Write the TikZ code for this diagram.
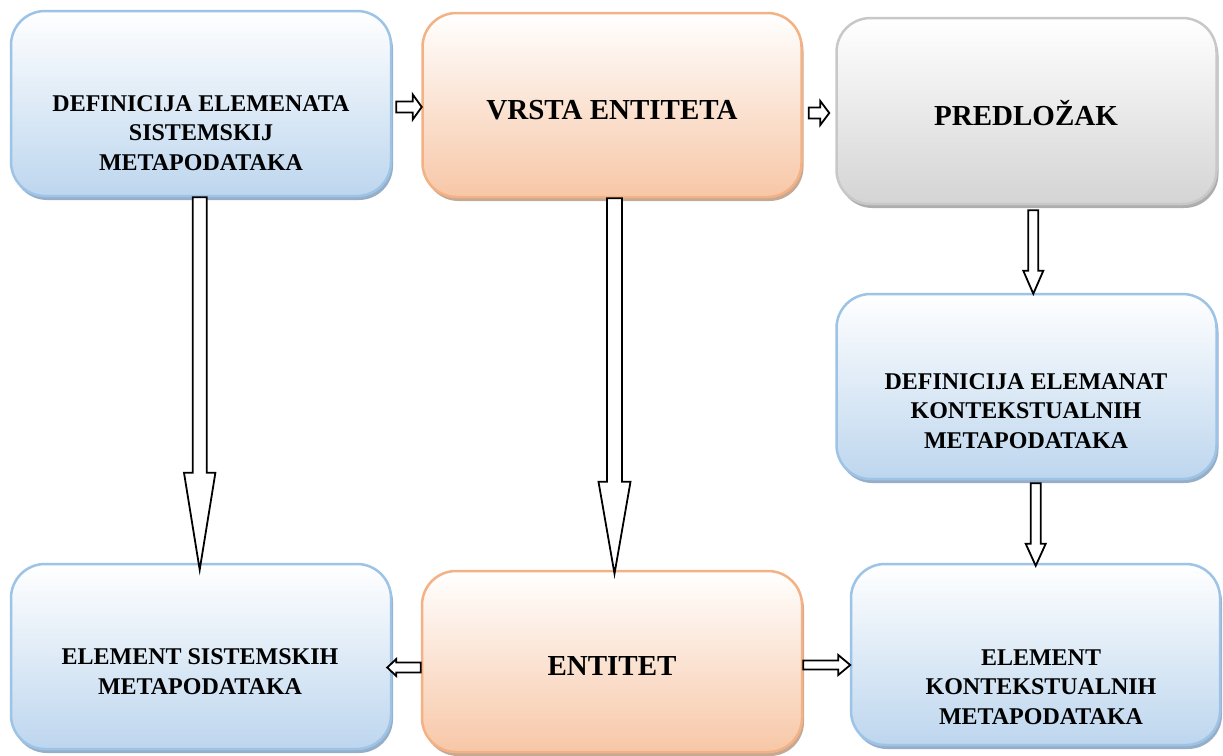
\documentclass[tikz,border=0pt]{standalone}
\usepackage{fontspec}
\setmainfont{Liberation Serif}
\usetikzlibrary{calc,shadows}

\definecolor{bluedge}{RGB}{157,195,230}
\definecolor{bluefill}{RGB}{189,214,238}
\definecolor{blueshade}{RGB}{140,166,196}
\definecolor{orgedge}{RGB}{244,177,131}
\definecolor{orgfill}{RGB}{247,199,167}
\definecolor{orgshade}{RGB}{190,160,140}
\definecolor{grayedge}{RGB}{200,200,200}
\definecolor{grayfill}{RGB}{212,212,212}
\definecolor{grayshade}{RGB}{165,165,165}

% hollow block arrow: start, end, shaft half width, head half width, head length (pt)
\newcommand{\blockarrow}[5]{%
  \draw[blk] let \p1=#1, \p2=#2,
      \n1={veclen(\x2-\x1,\y2-\y1)},
      \n2={(\x2-\x1)/\n1}, \n3={(\y2-\y1)/\n1} in
    ({\x1-#3*\n3},{\y1+#3*\n2})
    -- ({\x2-#5*\n2-#3*\n3},{\y2-#5*\n3+#3*\n2})
    -- ({\x2-#5*\n2-#4*\n3},{\y2-#5*\n3+#4*\n2})
    -- (\x2,\y2)
    -- ({\x2-#5*\n2+#4*\n3},{\y2-#5*\n3-#4*\n2})
    -- ({\x2-#5*\n2+#3*\n3},{\y2-#5*\n3-#3*\n2})
    -- ({\x1+#3*\n3},{\y1-#3*\n2}) -- cycle;}

\tikzset{
  card/.style={rounded corners=34pt, line width=2.5pt, inner sep=0pt,
    top color=white},
  bluecard/.style={card, draw=bluedge, bottom color=bluefill,
    drop shadow={shadow xshift=2pt, shadow yshift=-4pt, fill=blueshade, opacity=0.9}},
  orgcard/.style={card, draw=orgedge, bottom color=orgfill,
    drop shadow={shadow xshift=2pt, shadow yshift=-4pt, fill=orgshade, opacity=0.9}},
  graycard/.style={card, draw=grayedge, bottom color=grayfill,
    drop shadow={shadow xshift=2pt, shadow yshift=-4pt, fill=grayshade, opacity=0.9}},
  lbl/.style={font=\fontsize{24}{29.5}\selectfont\bfseries, align=center, inner sep=0pt},
  biglbl/.style={font=\fontsize{29}{34}\selectfont\bfseries, align=center, inner sep=0pt},
  blk/.style={draw=black, line width=1.8pt, fill=white, line join=miter},
}

\begin{document}
\begin{tikzpicture}[x=1pt,y=-1pt]
\useasboundingbox (0,0) rectangle (1223,755);
\fill[white] (0,0) rectangle (1223,755);

% boxes
\node[bluecard, minimum width=380pt, minimum height=185pt] (b1) at (201,103.5) {};
\node[orgcard,  minimum width=379pt, minimum height=184pt] (b2) at (612,105) {};
\node[graycard, minimum width=380pt, minimum height=186pt] (b3) at (1026.5,111) {};
\node[bluecard, minimum width=380pt, minimum height=185pt] (b4) at (1026.5,386.5) {};
\node[bluecard, minimum width=380pt, minimum height=185pt] (b5) at (201,656.5) {};
\node[orgcard,  minimum width=380pt, minimum height=181pt] (b6) at (612,661.5) {};
\node[bluecard, minimum width=369pt, minimum height=181pt] (b7) at (1035.5,654.5) {};

% labels
\node[lbl] (t1) at (201,133) {DEFINICIJA ELEMENATA\\SISTEMSKIJ\\METAPODATAKA};
\node[biglbl] (t2) at (612,110) {VRSTA ENTITETA};
\node[biglbl] (t3) at (1026,113) {PREDLOŽAK};
\node[lbl] (t4) at (1026,411) {DEFINICIJA ELEMANAT\\KONTEKSTUALNIH\\METAPODATAKA};
\node[lbl] (t5) at (200,671.5) {ELEMENT SISTEMSKIH\\METAPODATAKA};
\node[biglbl] (t6) at (612,666) {ENTITET};
\node[lbl] (t7) at (1041,687) {ELEMENT\\KONTEKSTUALNIH\\METAPODATAKA};

% connector end points
\coordinate (s1) at ([xshift=-1.3pt]b1.south);
\coordinate (e1) at ($(s1 |- b5.north)+(0,7)$);
\coordinate (s2) at ([xshift=2.5pt]b2.south);
\coordinate (e2) at ($(s2 |- b6.north)+(0,4)$);
\coordinate (s3) at ($([xshift=6.8pt]b3.south)+(0,5)$);
\coordinate (e3) at ($(s3 |- b4.north)+(0,1)$);
\coordinate (s4) at ($([xshift=9.2pt]b4.south)+(0,3)$);
\coordinate (e4) at ($(s4 |- b7.north)+(0,3)$);
\coordinate (s5) at ($([yshift=-3.5pt]b1.east)+(4,0)$);
\coordinate (e5) at ($(s5 -| b2.west)+(0.5,0)$);
\coordinate (s6) at ($([yshift=-8pt]b2.east)+(6,0)$);
\coordinate (e6) at ($(s6 -| b3.west)+(-6,0)$);
\coordinate (s7) at ([yshift=-6pt]b6.west);
\coordinate (e7) at ($(s7 -| b5.east)+(-5,0)$);
\coordinate (s8) at ([yshift=-3.5pt]b6.east);
\coordinate (e8) at ($(s8 -| b7.west)+(0.5,0)$);

% block arrows
\blockarrow{(s1)}{(e1)}{7}{15.7}{97}
\blockarrow{(s2)}{(e2)}{7.5}{16}{92}
\blockarrow{(s3)}{(e3)}{5}{10}{23}
\blockarrow{(s4)}{(e4)}{5}{10}{22}
\blockarrow{(s5)}{(e5)}{5.5}{12.5}{9}
\blockarrow{(s6)}{(e6)}{5.5}{12}{9}
\blockarrow{(s7)}{(e7)}{5}{8.5}{9}
\blockarrow{(s8)}{(e8)}{4.5}{10}{12}
\end{tikzpicture}
\end{document}
